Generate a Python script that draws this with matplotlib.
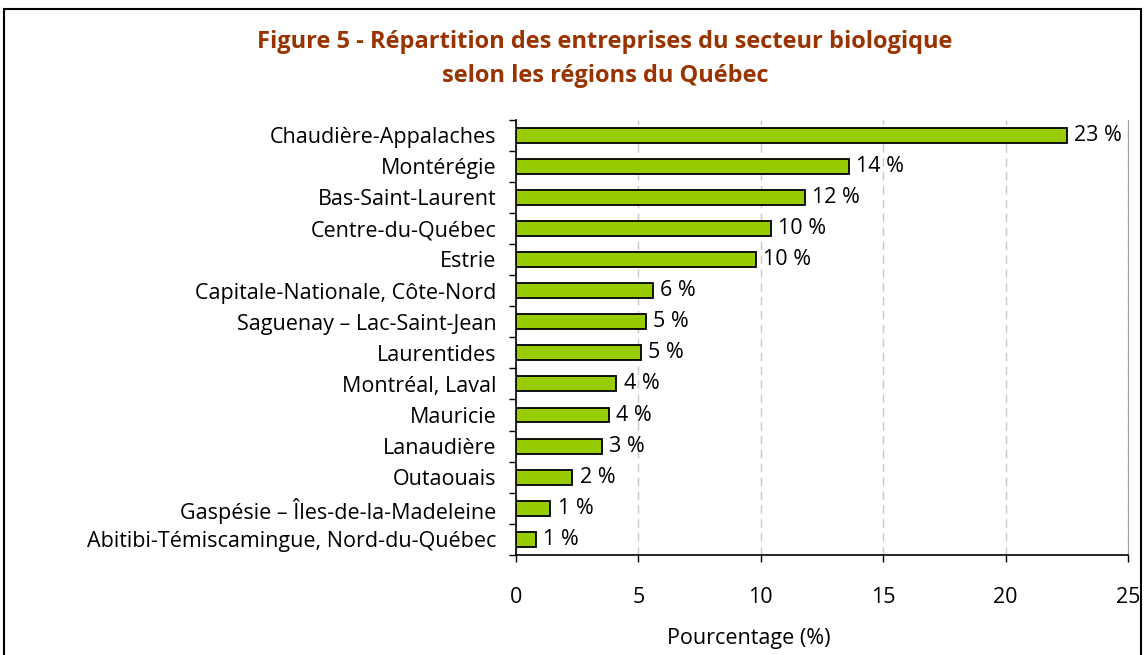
import matplotlib.pyplot as plt
from matplotlib.patches import Rectangle
from matplotlib.ticker import FixedLocator

regions = [
    "Chaudière-Appalaches",
    "Montérégie",
    "Bas-Saint-Laurent",
    "Centre-du-Québec",
    "Estrie",
    "Capitale-Nationale, Côte-Nord",
    "Saguenay – Lac-Saint-Jean",
    "Laurentides",
    "Montréal, Laval",
    "Mauricie",
    "Lanaudière",
    "Outaouais",
    "Gaspésie – Îles-de-la-Madeleine",
    "Abitibi-Témiscamingue, Nord-du-Québec",
]
percent = [22.5, 13.6, 11.8, 10.4, 9.8, 5.6, 5.3, 5.1, 4.1, 3.8, 3.5, 2.3, 1.4, 0.8]
labels = ["23 %", "14 %", "12 %", "10 %", "10 %", "6 %", "5 %", "5 %",
          "4 %", "4 %", "3 %", "2 %", "1 %", "1 %"]
xticks = [0, 5, 10, 15, 20, 25]

plt.rcParams['font.family'] = ['Open Sans', 'DejaVu Sans']

fig = plt.figure(figsize=(11.45, 6.55), dpi=100)
ax = fig.add_axes([516 / 1145, 1 - 555 / 655, (1128 - 516) / 1145, (555 - 119.5) / 655])

# outer frame of the chart
fig.patches.append(Rectangle((4 / 1145, -0.05), (1141 - 4) / 1145, 1.05 - 9 / 655,
                             transform=fig.transFigure, fill=False,
                             edgecolor='black', linewidth=1.5))

ypos = list(range(len(regions)))
ax.barh(ypos, percent, height=0.48, color='#99CC00', edgecolor='black', linewidth=1.3, zorder=3)
for y, v, t in zip(ypos, percent, labels):
    ax.text(v + 0.3, y, t, va='center', ha='left', fontsize=15.5)

ax.set_xlim(0, 25)
ax.set_ylim(len(regions) - 0.5, -0.5)
ax.set_xticks(xticks)
ax.set_xticklabels([str(x) for x in xticks], fontsize=15.5)
ax.set_yticks(ypos)
ax.set_yticklabels(regions, fontsize=15.5)
ax.yaxis.set_minor_locator(FixedLocator([i - 0.5 for i in range(len(regions) + 1)]))
ax.tick_params(axis='y', which='major', length=0, pad=14)
ax.tick_params(axis='y', which='minor', length=5, width=1, direction='out')
ax.tick_params(axis='x', length=5, width=1, direction='out', pad=18)

ax.xaxis.grid(True, linestyle=(0, (6, 4)), color='#c8c8c8', linewidth=1, zorder=0)
ax.spines['top'].set_visible(False)
ax.spines['right'].set_color('#a0a0a0')
ax.spines['left'].set_linewidth(1.2)
ax.spines['bottom'].set_linewidth(1.2)

ax.set_xlabel("Pourcentage (%)", fontsize=15.5)
ax.xaxis.set_label_coords((749 - 516) / 612, (555 - 628) / 435.5)

fig.text(605 / 1145, 1 - 42 / 655, "Figure 5 - Répartition des entreprises du secteur biologique",
         ha='center', va='center', fontsize=17, fontweight='bold', color='#993300')
fig.text(605 / 1145, 1 - 76 / 655, "selon les régions du Québec",
         ha='center', va='center', fontsize=17, fontweight='bold', color='#993300')

fig.savefig("out.png", dpi=100)
